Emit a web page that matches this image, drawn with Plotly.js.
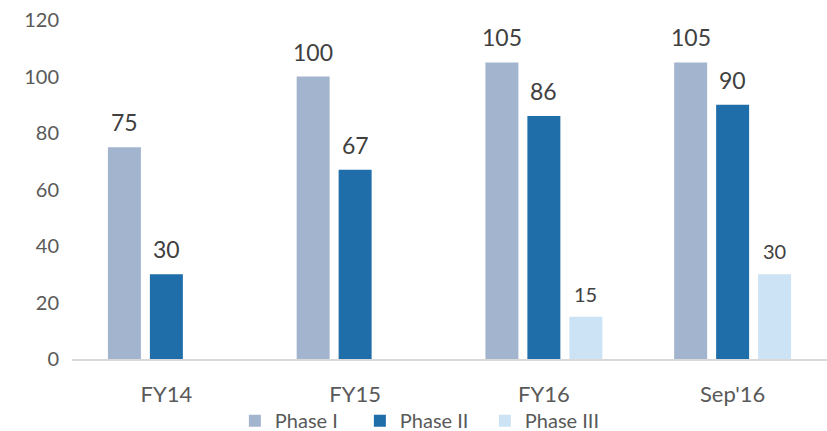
<!DOCTYPE html>
<html>
<head>
<meta charset="utf-8">
<script src="https://cdn.plot.ly/plotly-3.0.1.min.js"></script>
<style>
  html, body { margin: 0; padding: 0; background: #fff; }
  #chart { width: 827px; height: 431px; }
</style>
</head>
<body>
<div id="chart"></div>
<script>
// Project counts by phase and period
const categories = ["FY14", "FY15", "FY16", "Sep'16"];
const phase1 = [75, 100, 105, 105];
const phase2 = [30, 67, 86, 90];
const phase3 = [null, null, 15, 30];
const seriesNames = ["Phase I", "Phase II", "Phase III"];
const yTicks = [0, 20, 40, 60, 80, 100, 120];

const colors = ["#a3b4ce", "#1f6eaa", "#cce3f5"];
const FONT = "Lato, 'Open Sans', sans-serif";

const seriesValues = [phase1, phase2, phase3];
const traces = seriesValues.map((vals, i) => ({
  type: "bar",
  name: seriesNames[i],
  x: categories,
  y: vals,
  marker: { color: colors[i], line: { width: 0 } },
  hoverinfo: "skip"
}));

// Value labels above each bar, offset horizontally to the bar's slot in the group
const slotShift = [-42, 0, 42];
const labelSize = [23, 23, 20];
const annotations = [];
seriesValues.forEach((vals, i) => {
  vals.forEach((v, j) => {
    if (v === null) return;
    annotations.push({
      x: categories[j], y: v, xref: "x", yref: "y",
      text: String(v), showarrow: false,
      xanchor: "center", yanchor: "bottom",
      xshift: slotShift[i], yshift: 9,
      font: { family: FONT, size: labelSize[i], color: "#404040" }
    });
  });
});

const layout = {
  width: 827, height: 431,
  margin: { l: 72, r: 0, t: 20, b: 72, autoexpand: false },
  paper_bgcolor: "#fff", plot_bgcolor: "#fff",
  barmode: "group",
  bargap: 0.333,
  bargroupgap: 0.214,
  showlegend: true,
  legend: {
    orientation: "h",
    xref: "container", yref: "container",
    x: 0.284, xanchor: "left",
    y: 0.024, yanchor: "middle",
    entrywidth: 80,
    bgcolor: "rgba(0,0,0,0)",
    font: { family: FONT, size: 20, color: "#595959" },
    itemclick: false, itemdoubleclick: false
  },
  xaxis: {
    type: "category",
    showline: true, linecolor: "#d9d9d9", linewidth: 2,
    ticks: "", showgrid: false, zeroline: false,
    ticklabelstandoff: 15,
    tickfont: { family: FONT, size: 22, color: "#595959" }
  },
  yaxis: {
    range: [0, 120],
    tickvals: yTicks,
    ticktext: yTicks.map(String),
    showgrid: false, zeroline: false, showline: false, ticks: "",
    ticklabelstandoff: 12,
    tickfont: { family: FONT, size: 20, color: "#595959" }
  },
  annotations: annotations,
  font: { family: FONT }
};

Plotly.newPlot("chart", traces, layout, { staticPlot: true, displayModeBar: false });
</script>
</body>
</html>
